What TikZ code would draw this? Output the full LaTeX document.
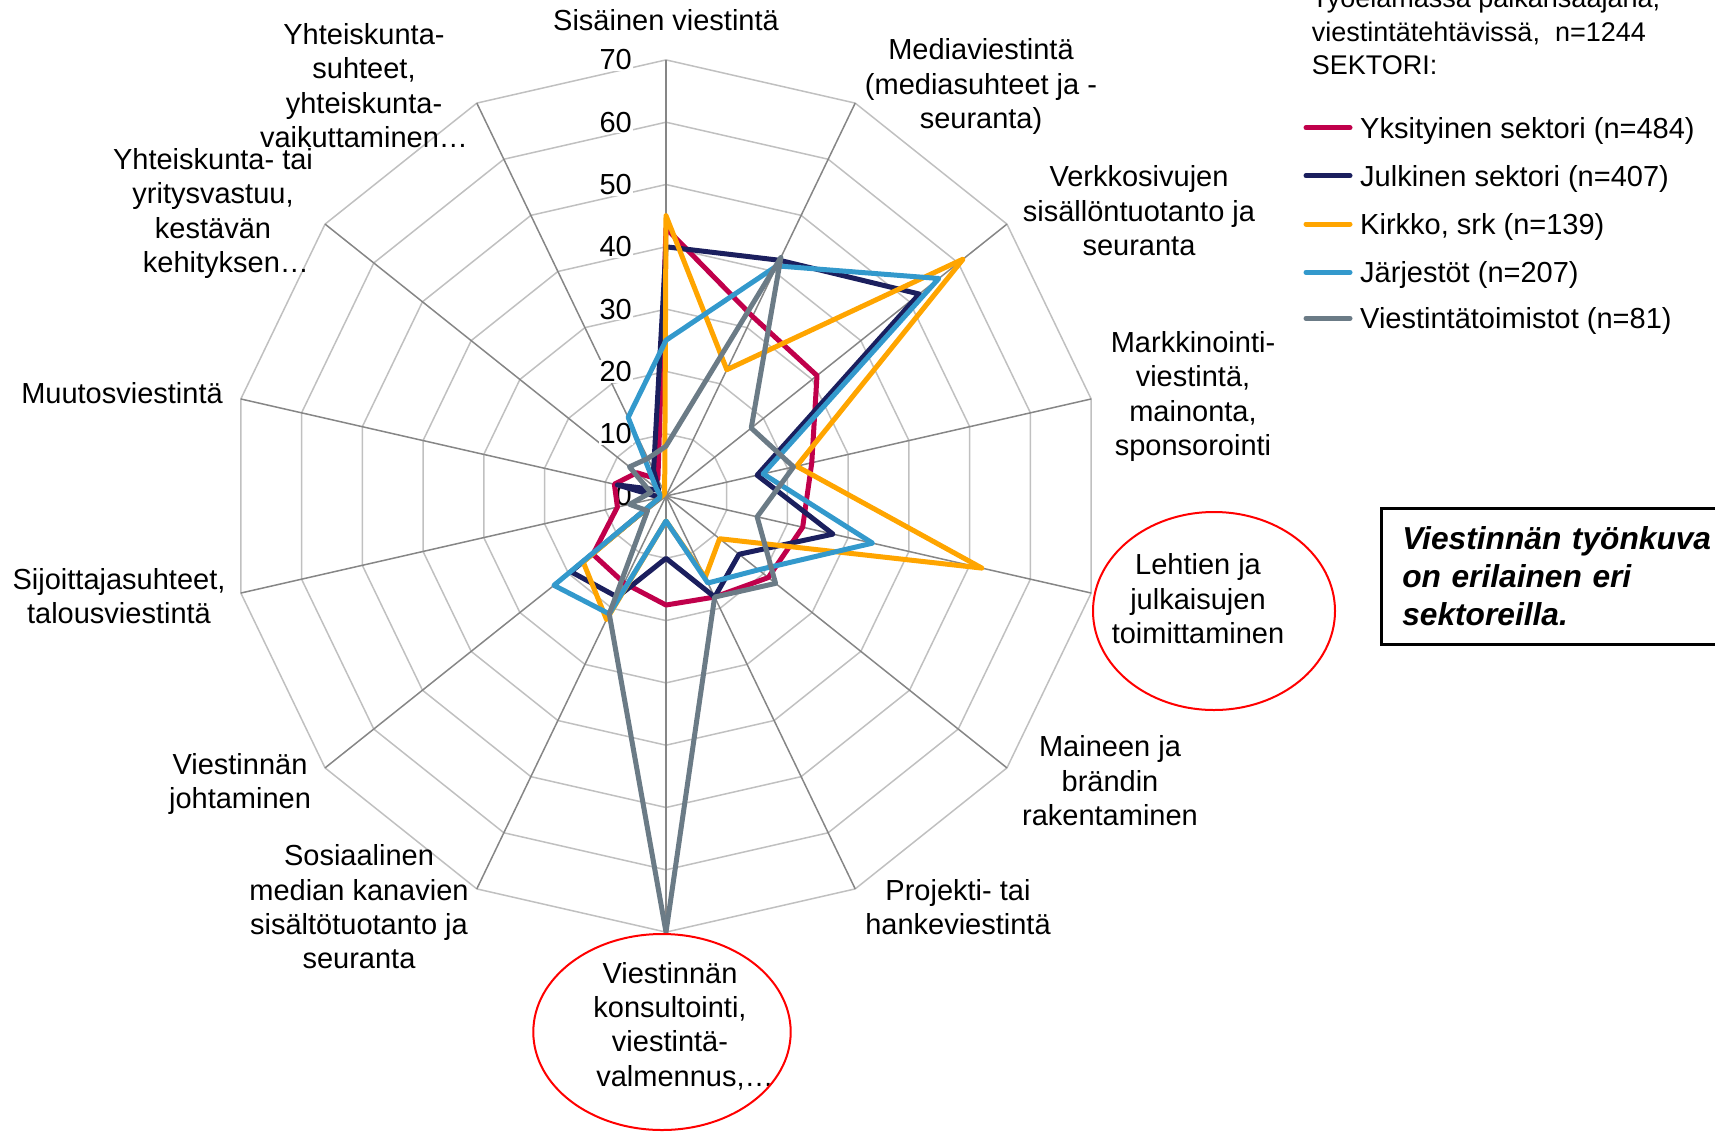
\documentclass[tikz,border=0pt]{standalone}
\usepackage{fontspec}
\setmainfont{Liberation Sans}
\usetikzlibrary{shapes.geometric}
\definecolor{cYks}{HTML}{C0004B}
\definecolor{cJul}{HTML}{1B1F5E}
\definecolor{cKir}{HTML}{FFA500}
\definecolor{cJar}{HTML}{3399CC}
\definecolor{cVie}{HTML}{6B7B86}
\definecolor{ringgray}{HTML}{C0C0C0}
\definecolor{spokegray}{HTML}{868686}
\definecolor{hlred}{HTML}{FF0000}
\tikzset{
  ring/.style={draw=ringgray, line width=1.5pt},
  spoke/.style={draw=spokegray, line width=1.5pt},
  ser/.style={line width=5pt, line join=round, line cap=round},
  lbl/.style={font=\fontsize{29}{34.4}\selectfont, align=center, inner sep=0pt},
  val/.style={font=\fontsize{29}{34.4}\selectfont, anchor=east, inner sep=1pt},
  hl/.style={draw=hlred, line width=2pt},
  legtxt/.style={font=\fontsize{29}{33.3}\selectfont, anchor=base west, inner sep=0pt},
}
\begin{document}
\begin{tikzpicture}[x=1pt,y=-1pt]
\useasboundingbox (0,0) rectangle (1715,1132);
\clip (0,0) rectangle (1715,1132);
\coordinate (C) at (666,496);
% grid
\begin{scope}[shift={(C)}]
  \foreach \r in {1,...,7} {
    \draw[ring] (-90:{\r*62.3}) \foreach \k in {1,...,13} { -- ({\k*360/14-90}:{\r*62.3}) } -- cycle;
  }
  \foreach \k in {0,...,13} { \draw[spoke] (0,0) -- ({\k*360/14-90}:436.1) coordinate (ax\k); }
\end{scope}
% value labels
\node[val] (v0) at (633,496) {0};
\node[val, fill=white] (v1) at (633,433.7) {10};
\node[val, fill=white] (v2) at (633,371.4) {20};
\node[val, fill=white] (v3) at (633,309.1) {30};
\node[val, fill=white] (v4) at (633,246.8) {40};
\node[val, fill=white] (v5) at (633,184.5) {50};
\node[val, fill=white] (v6) at (633,122.2) {60};
\node[val, fill=white] (v7) at (633,59.9) {70};
% data series
\begin{scope}[shift={(C)}]
  \foreach \v [count=\k from 0] in {43,32,31,24,22.5,21,18,17.5,15.5,15,8,8.5,6,3}
    { \coordinate (ra\k) at ({\k*360/14-90}:{\v*6.23}); }
  \foreach \v [count=\k from 0] in {40,42,52,15,27.5,15,18,10,18,19.5,1,8,1.5,4.6}
    { \coordinate (rb\k) at ({\k*360/14-90}:{\v*6.23}); }
  \foreach \v [count=\k from 0] in {45,22.5,61,21.5,52,11,14.5,4,22,17,1,0.5,0.5,0.5}
    { \coordinate (rc\k) at ({\k*360/14-90}:{\v*6.23}); }
  \foreach \v [count=\k from 0] in {25,41,56,16,34,19,15.5,4,21,23,1,1,2,14}
    { \coordinate (rd\k) at ({\k*360/14-90}:{\v*6.23}); }
  \foreach \v [count=\k from 0] in {8,42.5,17.5,21,15,22.5,18,70,21,3.8,6,2.5,7.5,6.7}
    { \coordinate (re\k) at ({\k*360/14-90}:{\v*6.23}); }
\end{scope}
\draw[ser, cYks] (ra0) \foreach \k in {1,...,13} { -- (ra\k) } -- cycle;
\draw[ser, cJul] (rb0) \foreach \k in {1,...,13} { -- (rb\k) } -- cycle;
\draw[ser, cKir] (rc0) \foreach \k in {1,...,13} { -- (rc\k) } -- cycle;
\draw[ser, cJar] (rd0) \foreach \k in {1,...,13} { -- (rd\k) } -- cycle;
\draw[ser, cVie] (re0) \foreach \k in {1,...,13} { -- (re\k) } -- cycle;
% category labels
\node[lbl, anchor=base] (L0) at (666,30.4) {Sisäinen viestintä};
\node[lbl] (L1) at (981,86.5) {Mediaviestintä\\(mediasuhteet ja -\\seuranta)};
\node[lbl] (L2) at (1139,211) {Verkkosivujen\\sisällöntuotanto ja\\seuranta};
\node[lbl] (L3) at (1193,396.5) {Markkinointi-\\viestintä,\\mainonta,\\sponsorointi};
\node[lbl] (L4) at (1198,599) {Lehtien ja\\julkaisujen\\toimittaminen};
\node[lbl] (L5) at (1110,781) {Maineen ja\\brändin\\rakentaminen};
\node[lbl] (L6) at (958,907) {Projekti- tai\\hankeviestintä};
\node[lbl] (L7) at (670,1026) {Viestinnän\\konsultointi,\\viestintä-\\\hspace*{30pt}valmennus,…};
\node[lbl] (L8) at (359,907) {Sosiaalinen\\median kanavien\\sisältötuotanto ja\\seuranta};
\node[lbl] (L9) at (240,784) {Viestinnän\\johtaminen};
\node[lbl] (L10) at (119,596) {Sijoittajasuhteet,\\talousviestintä};
\node[lbl, anchor=base] (L11) at (122,403.4) {Muutosviestintä};
\node[lbl] (L12) at (213,213.5) {Yhteiskunta- tai\\yritysvastuu,\\kestävän\\\hspace*{26pt}kehityksen…};
\node[lbl] (L13) at (364,85.5) {Yhteiskunta-\\suhteet,\\yhteiskunta-\\vaikuttaminen…};
% highlight ellipses
\draw[hl] (1214,611) ellipse [x radius=121pt, y radius=99pt];
\draw[hl] (662,1032) ellipse [x radius=128.7pt, y radius=98pt];
% legend
\node[font=\fontsize{27}{33.3}\selectfont, align=left, anchor=west, inner sep=0pt] (title) at (1311.7,31.5)
  {Työelämässä palkansaajana,\\viestintätehtävissä,\ \ n=1244\\SEKTORI:};
\coordinate (la1) at (1306,127.7); \coordinate (lb1) at (1350,127.7);
\coordinate (la2) at (1306,175.7); \coordinate (lb2) at (1350,175.7);
\coordinate (la3) at (1306,224);   \coordinate (lb3) at (1350,224);
\coordinate (la4) at (1306,272.3); \coordinate (lb4) at (1350,272.3);
\coordinate (la5) at (1306,318.3); \coordinate (lb5) at (1350,318.3);
\draw[ser, cYks] (la1) -- (lb1);
\draw[ser, cJul] (la2) -- (lb2);
\draw[ser, cKir] (la3) -- (lb3);
\draw[ser, cJar] (la4) -- (lb4);
\draw[ser, cVie] (la5) -- (lb5);
\node[legtxt] (t1) at (1360,138.1) {Yksityinen sektori (n=484)};
\node[legtxt] (t2) at (1360,186.1) {Julkinen sektori (n=407)};
\node[legtxt] (t3) at (1360,234.4) {Kirkko, srk (n=139)};
\node[legtxt] (t4) at (1360,282.7) {Järjestöt (n=207)};
\node[legtxt] (t5) at (1360,328.7) {Viestintätoimistot (n=81)};
% note box
\node[draw, line width=2.5pt, anchor=north west, minimum height=136pt, text width=330pt,
      inner xsep=21pt, inner ysep=0pt, align=left,
      font=\fontsize{31.7}{38}\selectfont\bfseries\itshape] (box) at (1380,507)
  {Viestinnän työnkuva\\on erilainen eri\\sektoreilla.};
\end{tikzpicture}
\end{document}
